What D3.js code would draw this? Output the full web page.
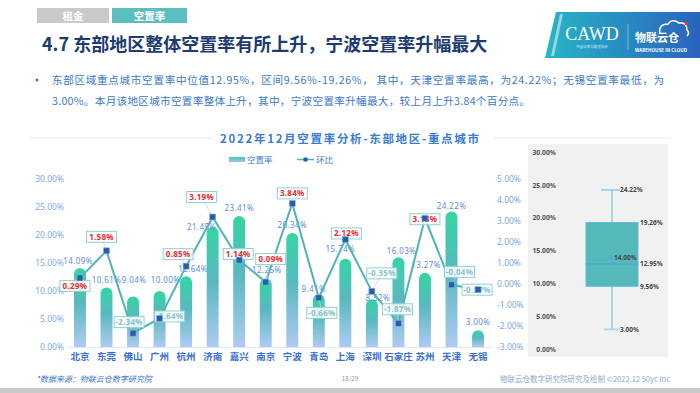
<!DOCTYPE html>
<html>
<head>
<meta charset="utf-8">
<script src="https://cdn.jsdelivr.net/npm/d3@7"></script>
<style>
  body { margin: 0; background: #fff; }
  svg { display: block; font-family: "Noto Sans CJK SC", "Noto Sans", sans-serif; }
</style>
</head>
<body>
<div id="chart"></div>
<script>
// data
var cities = ["北京", "东莞", "佛山", "广州", "杭州", "济南", "嘉兴", "南京", "宁波", "青岛", "上海", "深圳", "石家庄", "苏州", "天津", "无锡"];
var vacancy = [14.09, 10.61, 9.04, 10.00, 12.64, 21.45, 23.41, 12.25, 20.34, 9.41, 15.74, 8.52, 16.03, 13.27, 24.22, 3.00];
var mom = [0.29, 1.58, -2.34, -1.64, 0.85, 3.19, 1.14, 0.09, 3.84, -0.66, 2.12, -0.35, -1.87, 3.13, -0.04, -0.27];
var leftTicks = [0, 5, 10, 15, 20, 25, 30];
var rightTicks = [-3, -2, -1, 0, 1, 2, 3, 4, 5];
var boxTicks = [0, 5, 10, 15, 20, 25, 30];

// label nudges (px) so the labels sit like in the original
var barLabelNudge = [[-2,1],[0,0],[1,-8],[6,-3],[7,1],[-11,8],[0,0],[1,0],[0,0],[-5,3],[-5,-2],[6,7],[3,2],[1,0],[0,3],[0,0]];
var momLabelNudge = [[-5,8],[-5,-14],[-4,-11],[10,-2],[-8,-12],[-11,-20],[-1,-6],[5,-23],[0,-10],[3,15],[1,-6],[10,-18],[-1,-14],[0,1],[8,-13],[-1,0]];

var W = 700, H = 393;
var svg = d3.select("#chart").append("svg").attr("width", W).attr("height", H);
var defs = svg.append("defs");

// plain hyphen minus like the original
var pct = function (d) { return (+d).toFixed(2); };

// ---- header
svg.append("rect").attr("x", 37).attr("y", 8).attr("width", 72).attr("height", 15).attr("fill", "#c9c9c9");
svg.append("text").attr("x", 73).attr("y", 19.5).attr("text-anchor", "middle").attr("fill", "#fff")
  .attr("font-size", 10.5).attr("font-weight", "bold").text("租金");
svg.append("rect").attr("x", 112).attr("y", 8).attr("width", 75).attr("height", 15).attr("fill", "#5bbfc0");
svg.append("text").attr("x", 149.5).attr("y", 19.5).attr("text-anchor", "middle").attr("fill", "#fff")
  .attr("font-size", 10.5).attr("font-weight", "bold").text("空置率");

svg.append("text").attr("x", 42).attr("y", 51).attr("fill", "#1d3b72")
  .attr("font-size", 18).attr("font-weight", "bold")
  .text("4.7 东部地区整体空置率有所上升，宁波空置率升幅最大");

// logo block
var lg = defs.append("linearGradient").attr("id", "logoGrad").attr("x1", 0).attr("x2", 1).attr("y1", 0).attr("y2", 0);
lg.append("stop").attr("offset", "0%").attr("stop-color", "#27b5c6");
lg.append("stop").attr("offset", "100%").attr("stop-color", "#2a63bd");
svg.append("path").attr("d", "M556,12 L700,12 L700,58 L545,58 Z").attr("fill", "url(#logoGrad)");
svg.append("path").attr("d", "M560,14 L563,14 L554,56 L551,56 Z").attr("fill", "#bfeaf0").attr("opacity", 0.7);
svg.append("text").attr("x", 592).attr("y", 40).attr("text-anchor", "middle").attr("fill", "#fff")
  .attr("font-size", 18).attr("font-family", "Liberation Serif, serif").text("CAWD");
svg.append("text").attr("x", 592).attr("y", 48).attr("text-anchor", "middle").attr("fill", "#d8f0f5")
  .attr("font-size", 3.5).text("中国仓储与配送协会");
svg.append("line").attr("x1", 628).attr("x2", 628).attr("y1", 24).attr("y2", 50).attr("stroke", "#9fd8e8").attr("stroke-width", 0.6);
svg.append("path").attr("d", "M660,34 q-2,-10 8,-10 q4,-6 11,-1 q8,-1 8,7 q3,3 0,6")
  .attr("fill", "none").attr("stroke", "#fff").attr("stroke-width", 1.6);
svg.append("rect").attr("x", 685).attr("y", 22).attr("width", 3).attr("height", 3).attr("fill", "#e53935");
svg.append("text").attr("x", 635).attr("y", 42).attr("fill", "#fff").attr("font-size", 11).attr("font-weight", "bold").text("物联云仓");
svg.append("text").attr("x", 635).attr("y", 52).attr("fill", "#fff").attr("font-size", 4.6).attr("font-weight", "bold")
  .text("WAREHOUSE IN CLOUD");

// ---- paragraph
var sortedV = vacancy.slice().sort(d3.ascending);
function quartExc(arr, p) {
  var pos = p * (arr.length + 1), lo = Math.floor(pos), f = pos - lo;
  return arr[lo - 1] + f * (arr[lo] - arr[lo - 1]);
}
var q1 = quartExc(sortedV, 0.25), med = quartExc(sortedV, 0.5), q3 = quartExc(sortedV, 0.75);
med = Math.floor(med * 100) / 100; // shown as 12.95 in the source
var vMean = d3.mean(vacancy);
var iMax = d3.maxIndex(vacancy), iMin = d3.minIndex(vacancy), iUp = d3.maxIndex(mom);

svg.append("circle").attr("cx", 37).attr("cy", 80).attr("r", 1.5).attr("fill", "#3b78c9");
svg.append("text").attr("x", 52).attr("y", 84).attr("fill", "#3b78c9").attr("font-size", 10.6)
  .attr("textLength", 612).attr("lengthAdjust", "spacing")
  .text("东部区域重点城市空置率中位值" + pct(med) + "%，区间" + pct(q1) + "%-" + pct(q3) + "%， 其中，" +
        cities[iMax] + "空置率最高，为" + pct(vacancy[iMax]) + "%；" + cities[iMin] + "空置率最低，为");
svg.append("text").attr("x", 52).attr("y", 105).attr("fill", "#3b78c9").attr("font-size", 10.6)
  .attr("textLength", 478).attr("lengthAdjust", "spacing")
  .text(pct(vacancy[iMin]) + "%。本月该地区城市空置率整体上升，其中，" + cities[iUp] +
        "空置率升幅最大，较上月上升" + pct(mom[iUp]) + "个百分点。");

// ---- chart title + legend
svg.append("line").attr("x1", 30).attr("x2", 213).attr("y1", 138).attr("y2", 138).attr("stroke", "#e8e8e8");
svg.append("line").attr("x1", 493).attr("x2", 670).attr("y1", 138).attr("y2", 138).attr("stroke", "#e8e8e8");
svg.append("text").attr("x", 220).attr("y", 142.5).attr("fill", "#3a7bd5").attr("font-size", 11.5)
  .attr("font-weight", "bold").attr("textLength", 259).attr("lengthAdjust", "spacing")
  .text("2022年12月空置率分析-东部地区-重点城市");

var bg = defs.append("linearGradient").attr("id", "barGrad").attr("x1", 0).attr("x2", 0).attr("y1", 0).attr("y2", 1);
bg.append("stop").attr("offset", "0%").attr("stop-color", "#33d6a3");
bg.append("stop").attr("offset", "45%").attr("stop-color", "#5ab8bf");
bg.append("stop").attr("offset", "100%").attr("stop-color", "#aecbf3");
var sg = defs.append("linearGradient").attr("id", "swGrad").attr("x1", 0).attr("x2", 0).attr("y1", 0).attr("y2", 1);
sg.append("stop").attr("offset", "0%").attr("stop-color", "#4cc9b0");
sg.append("stop").attr("offset", "100%").attr("stop-color", "#9ec2ee");

svg.append("rect").attr("x", 229).attr("y", 157).attr("width", 16).attr("height", 5).attr("fill", "url(#swGrad)");
svg.append("text").attr("x", 247).attr("y", 163).attr("fill", "#3a7bd5").attr("font-size", 8.5).text("空置率");
svg.append("line").attr("x1", 297).attr("x2", 314).attr("y1", 159.5).attr("y2", 159.5).attr("stroke", "#4db5b5").attr("stroke-width", 1.5);
svg.append("rect").attr("x", 303.5).attr("y", 157.5).attr("width", 4).attr("height", 4).attr("fill", "#2a5caa");
svg.append("text").attr("x", 316).attr("y", 163).attr("fill", "#3a7bd5").attr("font-size", 8.5).text("环比");

// ---- main chart scales
var x = d3.scaleBand().domain(cities).range([66.7, 491.3]).paddingInner(0.55).paddingOuter(0.275);
var y = d3.scaleLinear().domain([0, 30]).range([347, 179]);
var y2 = d3.scaleLinear().domain([-3, 5]).range([347, 179]);
var cx = function (i) { return x(cities[i]) + x.bandwidth() / 2; };

var leftAxis = svg.append("g").attr("transform", "translate(64,0)")
  .call(d3.axisLeft(y).tickValues(leftTicks).tickSize(0).tickPadding(0).tickFormat(function (d) { return pct(d) + "%"; }));
leftAxis.select(".domain").remove();
leftAxis.selectAll("text").attr("fill", "#7ea9e6").attr("font-size", 8.5).attr("font-family", "Noto Sans, sans-serif");

var rightAxis = svg.append("g").attr("transform", "translate(497,0)")
  .call(d3.axisRight(y2).tickValues(rightTicks).tickSize(0).tickPadding(0).tickFormat(function (d) { return pct(d) + "%"; }));
rightAxis.select(".domain").remove();
rightAxis.selectAll("text").attr("fill", "#7ea9e6").attr("font-size", 8.5).attr("font-family", "Noto Sans, sans-serif");

var xAxis = svg.append("g").attr("transform", "translate(0,347)")
  .call(d3.axisBottom(x).tickSize(0).tickPadding(6));
xAxis.select(".domain").attr("stroke", "#dde7f5");
xAxis.selectAll("text").attr("fill", "#3a6fd0").attr("font-size", 9.5).attr("font-weight", "bold")
  .attr("font-family", "Noto Sans CJK SC, sans-serif");

// bars with rounded tops
function barPath(x0, y0, w, h) {
  var r = w / 2;
  if (h < r) r = h;
  return "M" + x0 + "," + (y0 + h) + "V" + (y0 + r) + "A" + (w / 2) + "," + r + " 0 0 1 " + (x0 + w) + "," + (y0 + r) + "V" + (y0 + h) + "Z";
}
svg.append("g").selectAll("path").data(vacancy).enter().append("path")
  .attr("d", function (d, i) { return barPath(x(cities[i]), y(d), x.bandwidth(), y(0) - y(d)); })
  .attr("fill", "url(#barGrad)");

svg.append("g").selectAll("text").data(vacancy).enter().append("text")
  .attr("x", function (d, i) { return cx(i) + barLabelNudge[i][0]; })
  .attr("y", function (d, i) { return y(d) - 5 + barLabelNudge[i][1]; })
  .attr("text-anchor", "middle").attr("fill", "#5b8ee0").attr("font-size", 8).attr("letter-spacing", 0.4)
  .attr("font-family", "Noto Sans, sans-serif")
  .text(function (d) { return pct(d) + "%"; });

// line
var line = d3.line().x(function (d, i) { return cx(i); }).y(function (d) { return y2(d); });
svg.append("path").datum(mom).attr("d", line).attr("fill", "none").attr("stroke", "#4db5b5").attr("stroke-width", 2);

// leader lines + boxed labels
var lab = svg.append("g").selectAll("g").data(mom).enter().append("g");
lab.append("line")
  .attr("x1", function (d, i) { return cx(i); }).attr("y1", function (d) { return y2(d); })
  .attr("x2", function (d, i) { return cx(i) + momLabelNudge[i][0]; })
  .attr("y2", function (d, i) { return y2(d) + momLabelNudge[i][1]; })
  .attr("stroke", "#b5d3ef").attr("stroke-width", 0.7);
svg.append("g").selectAll("rect").data(mom).enter().append("rect")
  .attr("x", function (d, i) { return cx(i) - 3; }).attr("y", function (d) { return y2(d) - 3; })
  .attr("width", 6).attr("height", 6).attr("fill", "#2a5caa").attr("stroke", "#8ab7e0").attr("stroke-width", 0.6);
lab.append("rect")
  .attr("x", function (d, i) { return cx(i) + momLabelNudge[i][0] - 15; })
  .attr("y", function (d, i) { return y2(d) + momLabelNudge[i][1] - 5.5; })
  .attr("width", 30).attr("height", 11)
  .attr("fill", "#fff").attr("fill-opacity", 0.85).attr("stroke", "#8fd0d0").attr("stroke-width", 1);
lab.append("text")
  .attr("x", function (d, i) { return cx(i) + momLabelNudge[i][0]; })
  .attr("y", function (d, i) { return y2(d) + momLabelNudge[i][1] + 3; })
  .attr("text-anchor", "middle").attr("font-size", 8).attr("font-weight", "bold").attr("letter-spacing", 0.3)
  .attr("font-family", "Noto Sans, sans-serif")
  .attr("fill", function (d) { return d > 0 ? "#f0282d" : "#86c3c9"; })
  .text(function (d) { return pct(d) + "%"; });

// ---- box plot panel
svg.append("rect").attr("x", 528).attr("y", 144).attr("width", 140).attr("height", 213).attr("fill", "#f1f1f1");
var yb = d3.scaleLinear().domain([0, 30]).range([349, 152]);
var boxAxis = svg.append("g").attr("transform", "translate(556,0)")
  .call(d3.axisLeft(yb).tickValues(boxTicks).tickSize(0).tickPadding(0).tickFormat(function (d) { return pct(d) + "%"; }));
boxAxis.select(".domain").remove();
boxAxis.selectAll("text").attr("fill", "#555").attr("font-size", 6.8).attr("font-weight", "bold")
  .attr("font-family", "Noto Sans, sans-serif");

var bx = 612, bw = 52;
var vMax = d3.max(vacancy), vMin = d3.min(vacancy);
svg.append("line").attr("x1", bx).attr("x2", bx).attr("y1", yb(vMax)).attr("y2", yb(vMin)).attr("stroke", "#5bbde0").attr("stroke-width", 1);
svg.append("line").attr("x1", bx - 11).attr("x2", bx + 8).attr("y1", yb(vMax)).attr("y2", yb(vMax)).attr("stroke", "#5bbde0").attr("stroke-width", 1);
svg.append("line").attr("x1", bx - 8).attr("x2", bx + 8).attr("y1", yb(vMin)).attr("y2", yb(vMin)).attr("stroke", "#a8dcef").attr("stroke-width", 2);
svg.append("rect").attr("x", bx - bw / 2).attr("y", yb(q3)).attr("width", bw).attr("height", yb(q1) - yb(q3))
  .attr("fill", "#55b9bc").attr("stroke", "#5bbde0").attr("stroke-width", 1);
svg.append("line").attr("x1", bx - bw / 2).attr("x2", bx + bw / 2).attr("y1", yb(med)).attr("y2", yb(med)).attr("stroke", "#4aa8d0").attr("stroke-width", 1);
svg.append("text").attr("x", bx - 1).attr("y", yb(vMean) + 2.5).attr("text-anchor", "middle").attr("fill", "#3aa0d8").attr("font-size", 7).text("×");

var boxLabels = [[vMax, bx + 8], [q3, bx + 28], [vMean, bx + 2], [med, bx + 28], [q1, bx + 28], [vMin, bx + 8]];
svg.append("g").selectAll("text").data(boxLabels).enter().append("text")
  .attr("x", function (d) { return d[1]; }).attr("y", function (d) { return yb(d[0]) + 2.5; })
  .attr("fill", "#444").attr("font-size", 6.5).attr("font-weight", "bold").attr("font-family", "Noto Sans, sans-serif")
  .text(function (d) { return pct(d[0]) + "%"; });

// ---- footer
svg.append("text").attr("x", 36).attr("y", 382).attr("fill", "#3b78c9").attr("font-size", 8)
  .attr("font-style", "italic").text("*数据来源：物联云仓数字研究院");
svg.append("text").attr("x", 350).attr("y", 381).attr("text-anchor", "middle").attr("fill", "#999").attr("font-size", 6.5).text("18/29");
svg.append("text").attr("x", 670).attr("y", 382).attr("text-anchor", "end").attr("fill", "#8ea9c9").attr("font-size", 7.5)
  .text("物联云仓数字研究院研究及绘制    ©2022.12 50yc Inc");
svg.append("rect").attr("x", 0).attr("y", 388).attr("width", W).attr("height", 5).attr("fill", "#c9c9c9");
</script>
</body>
</html>
